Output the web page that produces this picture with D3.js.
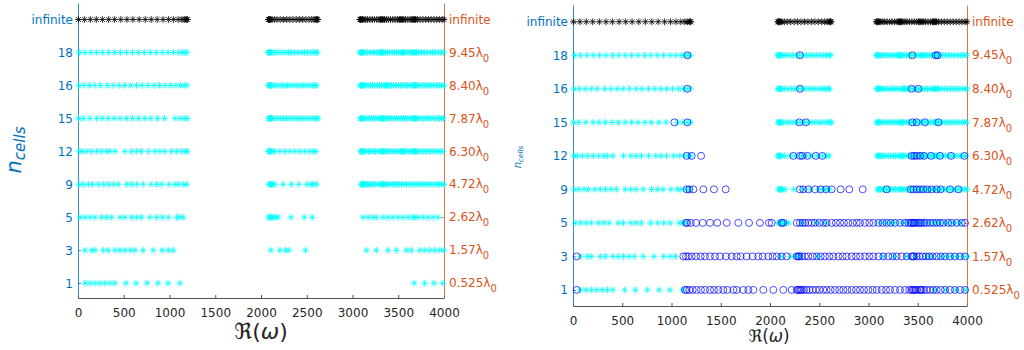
<!DOCTYPE html>
<html>
<head>
<meta charset="utf-8">
<script src="https://cdn.jsdelivr.net/npm/d3@7"></script>
<style>
  body { margin: 0; background: #fff; }
  svg { display: block; }
  text { font-family: "DejaVu Sans", sans-serif; }
</style>
</head>
<body>
<script>
// row categories (bottom to top)
const rowLabels = ["1", "3", "5", "9", "12", "15", "16", "18", "infinite"];
const rightValues = ["0.525", "1.57", "2.62", "4.72", "6.30", "7.87", "8.40", "9.45", "infinite"];
const xTicks = [0, 500, 1000, 1500, 2000, 2500, 3000, 3500, 4000];

// eigenfrequencies, asterisks (both panels)
const stars1 = [76, 131, 186, 240, 295, 350, 404, 524, 634, 754, 874, 984, 1114,
  3673, 3789, 3891, 3989];
const stars3 = [76, 149, 186, 277, 331, 404, 459, 513, 568, 622, 713, 823, 921, 986, 1041,
  2107, 2206, 2268, 2304, 2486,
  3152, 3261, 3389, 3480, 3589, 3644, 3735, 3789, 3844, 3898, 3953, 4000];
const stars5 = [22, 76, 131, 186, 258, 313, 368, 459, 513, 586, 641, 695, 786, 859, 921, 986, 1077, 1114, 1150,
  2085, 2095, 2105, 2120, 2140, 2165, 2187, 2326, 2472, 2559,
  3116, 3170, 3225, 3261, 3334, 3389, 3443, 3498, 3553, 3607, 3662, 3680, 3716, 3771, 3826, 3880, 3935];
const stars9 = [11, 58, 113, 157, 222, 277, 331, 386, 440, 531, 586, 641, 713, 797, 859, 914, 994, 1059, 1096, 1150, 1187,
  2090, 2097, 2105, 2115, 2130, 2151, 2242, 2333, 2413, 2500, 2545, 2575, 2606,
  3095, 3100, 3108, 3118, 3130, 3145, 3165, 3185, 3205, 3225, 3250, 3275, 3300, 3320, 3330, 3340, 3360, 3385,
  3410, 3435, 3460, 3485, 3510, 3535, 3560, 3590, 3620, 3650, 3680, 3710, 3740, 3770, 3800, 3830, 3860, 3890,
  3920, 3950, 3980, 4000];
const stars12 = [11, 47, 95, 149, 204, 258, 313, 349, 404, 513, 586, 641, 695, 768, 841, 896, 950, 1023, 1078, 1132, 1175, 1195,
  2082, 2088, 2095, 2105, 2120, 2150, 2206, 2260, 2315, 2370, 2424, 2479, 2533, 2575, 2600,
  3090, 3098, 3105, 3115, 3130, 3150, 3175, 3200, 3225, 3250, 3275, 3300, 3320, 3330, 3340, 3355, 3380, 3405,
  3430, 3455, 3480, 3505, 3530, 3545, 3555, 3565, 3590, 3615, 3640, 3665, 3675, 3685, 3695, 3720, 3750, 3780,
  3810, 3840, 3870, 3900, 3930, 3960, 3990];
const stars15 = [5, 58, 130, 205, 265, 330, 395, 460, 530, 595, 660, 730, 795, 870, 945, 1060, 1115, 1160, 1195,
  2085, 2090, 2095, 2102, 2115, 2140, 2175, 2210, 2245, 2280, 2315, 2350, 2385, 2420, 2455, 2490, 2525, 2560, 2590, 2610, 2622,
  3085, 3092, 3100, 3112, 3130, 3155, 3180, 3205, 3230, 3255, 3280, 3300, 3320, 3330, 3340, 3355, 3380, 3405,
  3430, 3455, 3480, 3505, 3530, 3555, 3580, 3605, 3630, 3655, 3672, 3682, 3692, 3710, 3740, 3770, 3800, 3830,
  3860, 3890, 3920, 3950, 3975, 3995];
const stars16 = [10, 65, 125, 185, 245, 320, 385, 450, 510, 575, 640, 700, 765, 830, 890, 950, 1010, 1070, 1120, 1160, 1190,
  2082, 2088, 2095, 2105, 2120, 2150, 2185, 2220, 2255, 2290, 2325, 2360, 2395, 2430, 2465, 2500, 2535, 2565, 2590, 2605,
  3085, 3092, 3100, 3110, 3125, 3145, 3170, 3195, 3220, 3245, 3270, 3295, 3320, 3345, 3360, 3370, 3380, 3400,
  3425, 3450, 3475, 3500, 3525, 3550, 3575, 3600, 3625, 3650, 3670, 3680, 3690, 3710, 3740, 3770, 3800, 3830,
  3860, 3890, 3920, 3950, 3980, 4000];
const stars18 = [15, 75, 140, 205, 270, 335, 400, 465, 530, 595, 660, 725, 790, 855, 920, 985, 1045, 1100, 1140, 1170, 1190,
  2080, 2085, 2090, 2098, 2110, 2130, 2160, 2195, 2230, 2265, 2300, 2335, 2370, 2405, 2440, 2475, 2510, 2545, 2575, 2600, 2615,
  3080, 3088, 3095, 3105, 3120, 3140, 3165, 3190, 3215, 3240, 3265, 3290, 3305, 3315, 3325, 3340, 3360, 3385,
  3410, 3435, 3460, 3485, 3510, 3530, 3545, 3555, 3570, 3595, 3620, 3645, 3665, 3675, 3685, 3700, 3725, 3755,
  3785, 3815, 3845, 3875, 3905, 3935, 3965, 3995];
const starsInf = [5, 70, 135, 200, 268, 335, 400, 468, 535, 600, 668, 735, 800, 865, 930, 990, 1045, 1095, 1135, 1160, 1180, 1190, 1195,
  2080, 2085, 2090, 2095, 2105, 2120, 2145, 2175, 2210, 2245, 2280, 2315, 2350, 2385, 2420, 2455, 2490, 2525, 2555, 2580, 2600, 2610, 2615, 2620,
  3080, 3085, 3090, 3100, 3110, 3125, 3145, 3165, 3190, 3215, 3240, 3265, 3290, 3305, 3315, 3325, 3335, 3350,
  3370, 3390, 3415, 3440, 3465, 3490, 3510, 3520, 3530, 3545, 3560, 3580, 3605, 3630, 3650, 3660, 3670, 3680,
  3690, 3710, 3740, 3770, 3800, 3830, 3860, 3890, 3920, 3950, 3980, 4000];

// second model, circles (right panel only)
const circ1 = [37, 1137, 1154, 1181, 1215, 1255, 1299, 1340, 1391, 1431, 1475, 1526, 1567, 1628, 1662, 1729, 1780, 1831,
  1932, 2034, 2135, 2220, 2271, 2285, 2298, 2310, 2321, 2345, 2372, 2399, 2433, 2467, 2501, 2541, 2575, 2616, 2660, 2704,
  2744, 2785, 2829, 2873, 2914, 2954, 2998, 3042, 3083, 3134, 3178, 3218, 3269, 3320, 3370, 3414, 3438, 3450, 3462, 3475,
  3489, 3516, 3528, 3540, 3563, 3590, 3624, 3658, 3692, 3733, 3777, 3827, 3878, 3929, 3980];
const circ3 = [37, 1120, 1147, 1171, 1205, 1249, 1296, 1340, 1391, 1442, 1492, 1553, 1611, 1662, 1702, 1763, 1824, 1881,
  1925, 1983, 2027, 2068, 2118, 2169, 2271, 2285, 2298, 2321, 2355, 2389, 2433, 2474, 2514, 2558, 2602, 2643, 2694, 2738,
  2778, 2829, 2873, 2914, 2964, 3008, 3049, 3100, 3150, 3201, 3245, 3286, 3337, 3387, 3438, 3450, 3462, 3489, 3516, 3550,
  3584, 3617, 3651, 3692, 3733, 3777, 3827, 3878, 3929, 3980];
const circ5 = [1147, 1161, 1195, 1249, 1317, 1391, 1465, 1560, 1678, 1787, 1898, 1990, 2017, 2118, 2135, 2271, 2304,
  2332, 2355, 2389, 2423, 2457, 2501, 2541, 2575, 2626, 2670, 2711, 2751, 2795, 2839, 2880, 2914, 2964, 3008, 3049, 3100,
  3144, 3184, 3225, 3269, 3320, 3370, 3404, 3428, 3440, 3455, 3468, 3482, 3506, 3520, 3540, 3563, 3590, 3624, 3658, 3692,
  3726, 3760, 3810, 3844, 3895, 3946, 3980];
const circ9 = [1154, 1181, 1222, 1323, 1431, 1550, 2304, 2338, 2389, 2457, 2514, 2569, 2626, 2717, 2805, 2941,
  3184, 3428, 3455, 3489, 3523, 3557, 3597, 3641, 3692, 3733, 3827, 3912];
const circ12 = [1154, 1205, 1300, 2237, 2304, 2328, 2379, 2464, 2531, 3438, 3465, 3489, 3523, 3563, 3634, 3726, 3838, 3973];
const circ15 = [1029, 1161, 2298, 2365, 3445, 3489, 3573, 3709];
const circ16 = [1161, 2304, 3438, 3506];
const circ18 = [1161, 2304, 3445, 3682, 3702];
const circInf = [];

const starRows = [stars1, stars3, stars5, stars9, stars12, stars15, stars16, stars18, starsInf];
const circRows = [circ1, circ3, circ5, circ9, circ12, circ15, circ16, circ18, circInf];

const blue = "#0072BD", orange = "#D95319", grey = "#262626";

let svg = d3.select("body").append("svg")
    .attr("width", 1024)
    .attr("height", 350);

// MATLAB style '*' marker
function asterisk(r) {
    const d = r * 0.72;
    return "M" + (-r) + ",0H" + r + "M0," + (-r) + "V" + r +
        "M" + (-d) + "," + (-d) + "L" + d + "," + d +
        "M" + (-d) + "," + d + "L" + d + "," + (-d);
}

const panels = [
    {x0: 78, x1: 444, top: 3, bottom: 298, lo: -0.45, circles: false,
     nx: 21, ny: 150, nSize: 21, wx: 261, wy: 339, wSize: 22},
    {x0: 573, x1: 967, top: 5, bottom: 306, lo: -0.48, circles: true,
     nx: 521, ny: 157, nSize: 10, wx: 769, wy: 342, wSize: 17}
];

panels.forEach(function (p) {
    let x = d3.scaleLinear().domain([0, 4000]).range([p.x0, p.x1]);
    let y = d3.scaleLinear().domain([p.lo, 8.5]).range([p.bottom, p.top]);
    let g = svg.append("g");

    // bottom axis
    let xa = g.append("g")
        .attr("transform", "translate(0," + p.bottom + ")")
        .call(d3.axisBottom(x).tickValues(xTicks).tickFormat(d3.format("d"))
            .tickSize(-3).tickSizeOuter(0).tickPadding(10));
    xa.selectAll("path, line").attr("stroke", grey).attr("stroke-width", 0.8);
    xa.selectAll("text").attr("fill", grey).attr("font-size", "12px")
        .attr("font-family", "DejaVu Sans");

    // left axis
    let ya = g.append("g")
        .attr("transform", "translate(" + p.x0 + ",0)")
        .call(d3.axisLeft(y).tickValues(d3.range(9)).tickFormat(i => rowLabels[i])
            .tickSize(-3).tickSizeOuter(0).tickPadding(5));
    ya.selectAll("path, line").attr("stroke", blue).attr("stroke-width", 0.8);
    ya.selectAll("text").attr("fill", blue).attr("font-size", "12px")
        .attr("font-family", "DejaVu Sans");

    // right axis
    let ra = g.append("g")
        .attr("transform", "translate(" + p.x1 + ",0)")
        .call(d3.axisRight(y).tickValues(d3.range(9)).tickFormat("")
            .tickSize(-3).tickSizeOuter(0));
    ra.selectAll("path, line").attr("stroke", orange).attr("stroke-width", 0.8);

    let rl = g.selectAll("text.rlab")
        .data(rightValues)
        .enter()
        .append("text")
        .attr("class", "rlab")
        .attr("x", p.x1 + 5)
        .attr("y", (d, i) => y(i))
        .attr("dy", "0.35em")
        .attr("fill", orange)
        .attr("font-size", "12px");
    rl.each(function (d) {
        let t = d3.select(this);
        if (d === "infinite") { t.text(d); return; }
        t.append("tspan").text(d + "\u03bb");
        t.append("tspan").attr("font-size", "10px").attr("dy", 5).text("0");
    });

    // asterisk markers
    starRows.forEach(function (vals, i) {
        g.selectAll(null)
            .data(vals)
            .enter()
            .append("path")
            .attr("d", asterisk(3.4))
            .attr("transform", d => "translate(" + x(d) + "," + y(i) + ")")
            .attr("fill", "none")
            .attr("stroke", i === 8 ? "#000" : "#00FFFF")
            .attr("stroke-width", 0.8);
    });

    // circle markers
    if (p.circles) {
        circRows.forEach(function (vals, i) {
            g.selectAll(null)
                .data(vals)
                .enter()
                .append("circle")
                .attr("cx", d => x(d))
                .attr("cy", y(i))
                .attr("r", 3.5)
                .attr("fill", "none")
                .attr("stroke", "#0000FF")
                .attr("stroke-width", 0.7);
        });
    }

    // y label n_cells
    let nl = g.append("text")
        .attr("transform", "translate(" + p.nx + "," + p.ny + ") rotate(-90)")
        .attr("text-anchor", "middle")
        .attr("fill", blue)
        .attr("font-family", "Liberation Serif")
        .attr("font-style", "italic")
        .attr("font-size", p.nSize + "px");
    nl.append("tspan").text("n");
    nl.append("tspan").attr("font-size", (p.nSize * 0.72) + "px")
        .attr("dy", p.nSize * 0.2).text("cells");

    // x label Re(omega)
    let wl = g.append("text")
        .attr("x", p.wx)
        .attr("y", p.wy)
        .attr("text-anchor", "middle")
        .attr("fill", grey)
        .attr("font-family", "DejaVu Serif")
        .attr("font-size", p.wSize + "px");
    wl.append("tspan").text("\u211c(");
    wl.append("tspan").attr("font-style", "italic").text("\u03c9");
    wl.append("tspan").text(")");
});
</script>
</body>
</html>
